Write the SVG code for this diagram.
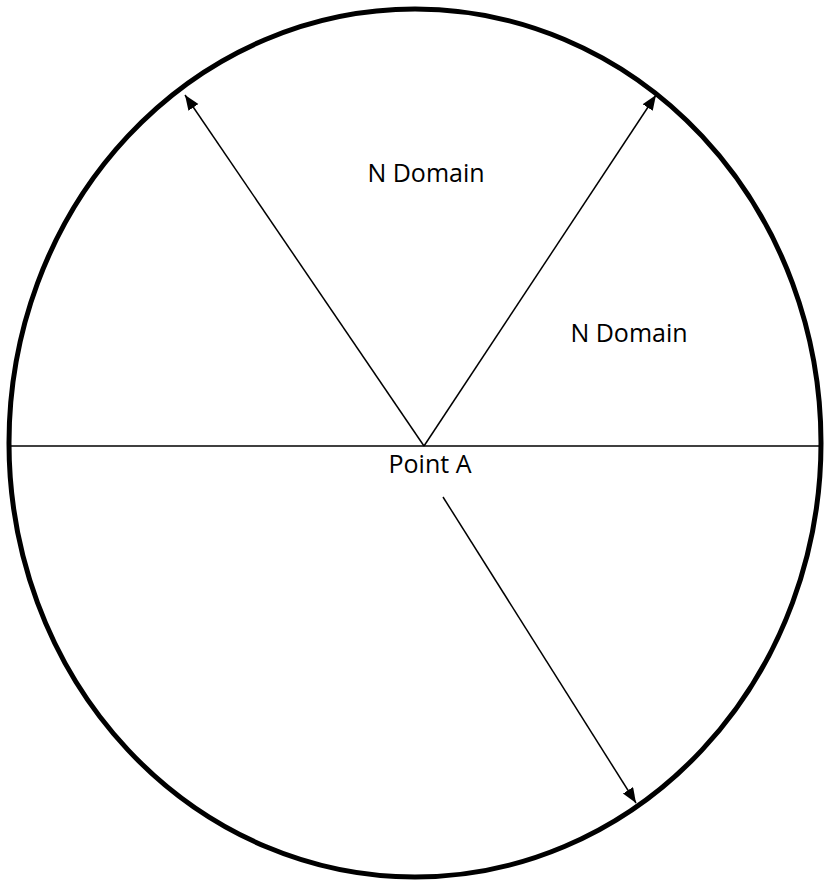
<svg xmlns="http://www.w3.org/2000/svg" width="827" height="881" viewBox="0 0 827 881">
<style>
.lbl{font-family:"Open Sans","Noto Sans",sans-serif;font-size:25px;fill:#000;text-anchor:middle}
.ln{stroke:#000;stroke-width:1.5;fill:none}
</style>
<defs>
<marker id="ah" markerUnits="userSpaceOnUse" markerWidth="16" markerHeight="14" refX="15" refY="6" orient="auto">
<path d="M0,0 L15,6 L0,12 z" fill="#000"/>
</marker>
</defs>
<rect width="827" height="881" fill="#fff"/>
<g id="circle">
<ellipse cx="415" cy="443" rx="406" ry="434" fill="none" stroke="#000" stroke-width="5"/>
</g>
<g id="connectors">
<line class="ln" x1="9" y1="446" x2="821" y2="446"/>
<line class="ln" x1="424" y1="446" x2="185" y2="95" marker-end="url(#ah)"/>
<line class="ln" x1="424" y1="446" x2="656" y2="95" marker-end="url(#ah)"/>
<line class="ln" x1="443" y1="497" x2="636" y2="803" marker-end="url(#ah)"/>
</g>
<g id="label-n-domain-1"><text class="lbl" x="426" y="182">N Domain</text></g>
<g id="label-n-domain-2"><text class="lbl" x="629" y="342">N Domain</text></g>
<g id="label-point-a"><text class="lbl" x="430" y="473">Point A</text></g>
</svg>
